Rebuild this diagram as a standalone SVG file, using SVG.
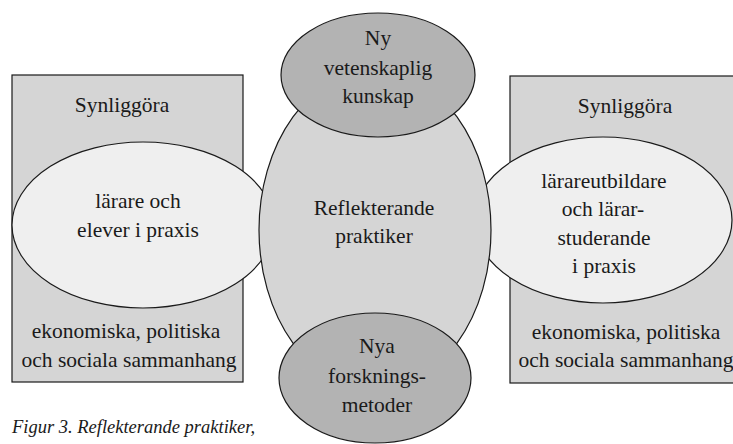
<svg xmlns="http://www.w3.org/2000/svg" width="733" height="444" viewBox="0 0 733 444">
<style>
.shape{stroke:#1a1a1a;stroke-width:1.2}
.box{fill:#d5d5d5}
.light{fill:#efefef}
.mid{fill:#d5d5d5}
.dark{fill:#b3b3b3}
.t{font-size:21.5px;fill:#1a1a1a;text-anchor:middle}
.cap{font-style:italic;font-size:18.5px;fill:#1a1a1a}
</style>
<rect width="733" height="444" fill="#ffffff"/>
<g font-family="Liberation Serif, serif">
<g id="left-box">
<rect class="shape box" x="12" y="75" width="231" height="307"/>
<text class="t" x="122" y="112">Synliggöra</text>
<text class="t" x="126" y="338">ekonomiska, politiska</text>
<text class="t" x="129" y="367">och sociala sammanhang</text>
</g>
<g id="right-box">
<rect class="shape box" x="510" y="76" width="240" height="307"/>
<text class="t" x="625" y="113">Synliggöra</text>
<text class="t" x="626" y="339">ekonomiska, politiska</text>
<text class="t" x="626" y="367">och sociala sammanhang</text>
</g>
<g id="left-ellipse">
<ellipse class="shape light" cx="143" cy="225" rx="131" ry="83"/>
<text class="t" x="138" y="208">lärare och</text>
<text class="t" x="138" y="237">elever i praxis</text>
</g>
<g id="right-ellipse">
<ellipse class="shape light" cx="603" cy="220" rx="129" ry="83"/>
<text class="t" x="604" y="188">lärareutbildare</text>
<text class="t" x="603" y="216">och lärar-</text>
<text class="t" x="604" y="245">studerande</text>
<text class="t" x="604" y="273">i praxis</text>
</g>
<g id="center">
<ellipse class="shape mid" cx="375" cy="230" rx="116" ry="160"/>
<text class="t" x="374" y="215">Reflekterande</text>
<text class="t" x="374" y="243">praktiker</text>
</g>
<g id="top">
<ellipse class="shape dark" cx="378" cy="75" rx="97" ry="62"/>
<text class="t" x="378" y="45">Ny</text>
<text class="t" x="378" y="75">vetenskaplig</text>
<text class="t" x="378" y="103">kunskap</text>
</g>
<g id="bottom">
<ellipse class="shape dark" cx="375" cy="378" rx="96" ry="65"/>
<text class="t" x="377" y="353">Nya</text>
<text class="t" x="377" y="383">forsknings-</text>
<text class="t" x="377" y="412">metoder</text>
</g>
<g id="connectors"></g>
<text class="cap" x="12" y="433">Figur 3. Reflekterande praktiker,</text>
</g>
</svg>
